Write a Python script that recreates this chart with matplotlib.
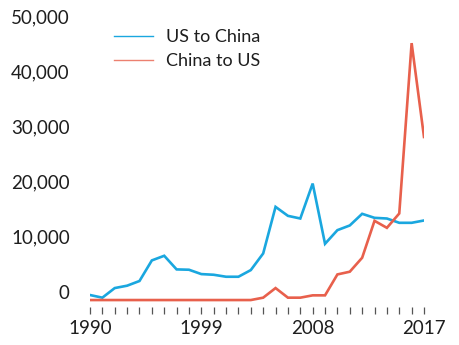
import matplotlib.pyplot as plt
from matplotlib.lines import Line2D

# Dados
anos = list(range(1990, 2018))
us_para_china = [-540, -1020, 720, 1150, 2000, 5730, 6570, 4100, 4040, 3250,
                 3130, 2770, 2770, 3980, 6990, 15430, 13800, 13320, 19650, 8740,
                 11210, 12060, 14170, 13440, 13320, 12540, 12540, 12960]
china_para_us = [-1450, -1450, -1450, -1450, -1450, -1450, -1450, -1450, -1450, -1450,
                 -1450, -1450, -1450, -1450, -1020, 720, -1020, -1020, -600, -600,
                 3190, 3680, 6210, 12900, 11630, 14230, 45090, 28090]
rotulos_y = [0, 10000, 20000, 30000, 40000, 50000]
rotulos_x = [1990, 1999, 2008, 2017]

azul = '#1AA7DF'
vermelho = '#E8604C'
cor_texto = '#1e1e1e'

plt.rcParams['font.family'] = ['Lato', 'DejaVu Sans']

fig = plt.figure(figsize=(4.6, 3.45), dpi=100)
ax = fig.add_axes([90 / 460, 1 - 307 / 345, (424 - 90) / 460, (307 - 16) / 345])

ax.plot(anos, us_para_china, color=azul, lw=1.9, solid_joinstyle='miter')
ax.plot(anos, china_para_us, color=vermelho, lw=1.9, solid_joinstyle='miter')

ax.set_xlim(1990, 2017)
ax.set_ylim(-2710, 50000)

for lado in ['top', 'right', 'left', 'bottom']:
    ax.spines[lado].set_visible(False)

# Eixo y
ax.set_yticks(rotulos_y)
ax.set_yticklabels(['{:,}'.format(v) for v in rotulos_y])
ax.tick_params(axis='y', length=0, pad=14.5, labelsize=13.5, labelcolor=cor_texto)

# Eixo x: tracinhos para todos os anos, rotulos a cada 9
ax.set_xticks(anos)
ax.set_xticklabels([str(a) if a in rotulos_x else '' for a in anos])
ax.tick_params(axis='x', length=5, width=0.9, color='#555555', pad=4,
               labelsize=13.5, labelcolor=cor_texto, direction='out')

# Legenda
linhas = [Line2D([0], [0], color=azul, lw=1.0),
          Line2D([0], [0], color=vermelho, lw=1.0, alpha=0.8)]
fig.legend(linhas, ['US to China', 'China to US'], loc='upper left',
           bbox_to_anchor=(107 / 460, 1 - 22 / 345), frameon=False,
           borderaxespad=0, fontsize=13, handlelength=2.14, handletextpad=0.7,
           labelspacing=0.45, labelcolor=cor_texto)

fig.savefig('out.png', dpi=100)
